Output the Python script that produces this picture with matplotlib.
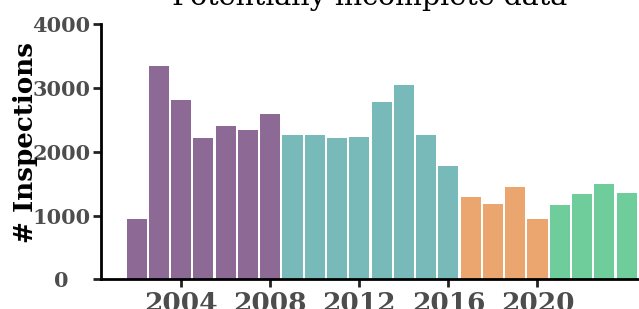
import matplotlib
matplotlib.use("Agg")
import matplotlib.pyplot as plt

years = list(range(2002, 2025))
inspections = [947, 3341, 2814, 2219, 2402, 2340, 2590,
               2261, 2261, 2214, 2230, 2778, 3044, 2261, 1776,
               1291, 1182, 1448, 947,
               1166, 1338, 1495, 1354]
period_colors = {"p1": "#8d6a96", "p2": "#78b9b9", "p3": "#eba66f", "p4": "#6fcd9b"}
def period(y):
    if y <= 2008: return "p1"
    if y <= 2016: return "p2"
    if y <= 2020: return "p3"
    return "p4"
colors = [period_colors[period(y)] for y in years]
xticks = [2004, 2008, 2012, 2016, 2020]
yticks = [0, 1000, 2000, 3000, 4000]

fig = plt.figure(figsize=(6.39, 3.09), dpi=100)
ax = fig.add_axes([0.158, 0.0955, 0.84, 0.8265])
ax.bar(years, inspections, width=0.9, color=colors)
ax.set_xlim(2000.4, 2024.5)
ax.set_ylim(0, 4000)
ax.set_xticks(xticks)
ax.set_yticks(yticks)
for s in ["top", "right"]:
    ax.spines[s].set_visible(False)
for s in ["left", "bottom"]:
    ax.spines[s].set_linewidth(2)
    ax.spines[s].set_color("black")
ax.tick_params(axis="both", length=6, width=2, color="#222222")
ax.tick_params(axis="y", pad=22.3)
ax.tick_params(axis="x", pad=2)
for lab in ax.get_xticklabels():
    lab.set_fontfamily("DejaVu Serif"); lab.set_fontweight("bold")
    lab.set_fontsize(19); lab.set_color("#4d4d4d")
for lab in ax.get_yticklabels():
    lab.set_fontfamily("DejaVu Serif"); lab.set_fontweight("bold")
    lab.set_fontsize(15); lab.set_color("#4d4d4d")
    lab.set_horizontalalignment("center")
ax.set_ylabel("# Inspections", family="DejaVu Serif", fontweight="bold",
              fontsize=18.8, color="black")
ax.yaxis.set_label_coords(-0.1166, 0.538)
ax.set_title("Potentially incomplete data", family="DejaVu Serif",
             fontsize=20.5, pad=14)
fig.savefig("out.png", dpi=100)
